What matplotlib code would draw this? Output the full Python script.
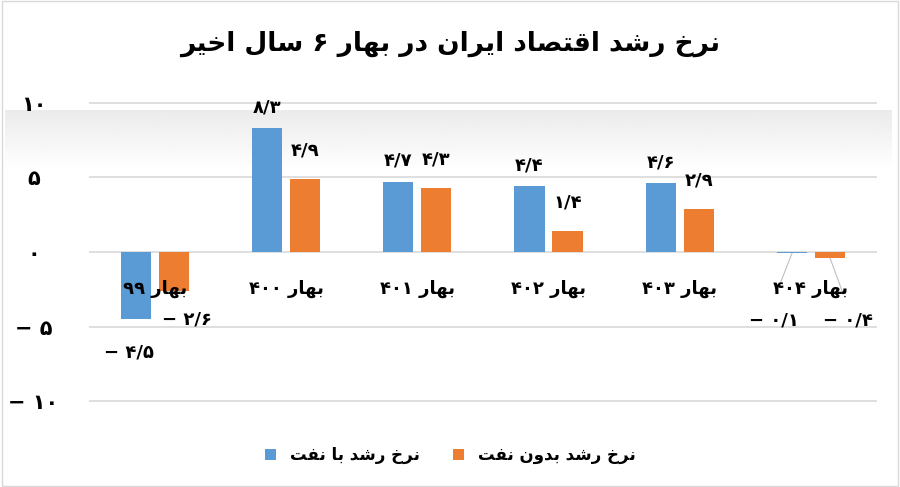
import matplotlib.pyplot as plt
import numpy as np

# داده‌ها
categories = ["بهار ۹۹", "بهار ۴۰۰", "بهار ۴۰۱", "بهار ۴۰۲", "بهار ۴۰۳", "بهار ۴۰۴"]
with_oil = [-4.5, 8.3, 4.7, 4.4, 4.6, -0.1]
without_oil = [-2.6, 4.9, 4.3, 1.4, 2.9, -0.4]
y_ticks = [-10, -5, 0, 5, 10]
title = "نرخ رشد اقتصاد ایران در بهار ۶ سال اخیر"
series_names = ["نرخ رشد با نفت", "نرخ رشد بدون نفت"]

BLUE = "#5B9BD5"
ORANGE = "#ED7D31"
FONT = "DejaVu Sans"

# minimal arabic shaping: (isolated, final, initial, medial)
_FORMS = {
    "ا": (0xFE8D, 0xFE8E, None, None),
    "ب": (0xFE8F, 0xFE90, 0xFE91, 0xFE92),
    "ت": (0xFE95, 0xFE96, 0xFE97, 0xFE98),
    "خ": (0xFEA5, 0xFEA6, 0xFEA7, 0xFEA8),
    "د": (0xFEA9, 0xFEAA, None, None),
    "ر": (0xFEAD, 0xFEAE, None, None),
    "س": (0xFEB1, 0xFEB2, 0xFEB3, 0xFEB4),
    "ش": (0xFEB5, 0xFEB6, 0xFEB7, 0xFEB8),
    "ص": (0xFEB9, 0xFEBA, 0xFEBB, 0xFEBC),
    "ف": (0xFED1, 0xFED2, 0xFED3, 0xFED4),
    "ق": (0xFED5, 0xFED6, 0xFED7, 0xFED8),
    "ل": (0xFEDD, 0xFEDE, 0xFEDF, 0xFEE0),
    "ن": (0xFEE5, 0xFEE6, 0xFEE7, 0xFEE8),
    "ه": (0xFEE9, 0xFEEA, 0xFEEB, 0xFEEC),
    "و": (0xFEED, 0xFEEE, None, None),
    "ی": (0xFBFC, 0xFBFD, 0xFEF3, 0xFEF4),
}


def _joins_forward(ch):
    return ch in _FORMS and _FORMS[ch][2] is not None


def _is_ltr(ch):
    return ch.isdigit() or ch in "/−-."


def fa(text):
    out = []
    for i, ch in enumerate(text):
        if ch not in _FORMS:
            out.append(ch)
            continue
        prev = text[i - 1] if i > 0 else ""
        nxt = text[i + 1] if i + 1 < len(text) else ""
        p = _joins_forward(prev)
        n = _joins_forward(ch) and nxt in _FORMS
        idx = 3 if (p and n) else 1 if p else 2 if n else 0
        out.append(chr(_FORMS[ch][idx]))
    out = out[::-1]
    # digit runs back to left-to-right
    res, run = [], []
    for ch in out:
        if _is_ltr(ch):
            run.append(ch)
        else:
            res.extend(run[::-1])
            run = []
            res.append(ch)
    res.extend(run[::-1])
    return "".join(res)


def fa_num(v):
    s = f"{abs(v):.1f}".replace(".", "/")
    s = s.translate(str.maketrans("0123456789", "۰۱۲۳۴۵۶۷۸۹"))
    if s.endswith("/۰"):
        s = s[:-2]
    return ("− " + s) if v < 0 else s


fig = plt.figure(figsize=(9, 4.87), dpi=100)

# grey band at the top of the plot area
grad = fig.add_axes([0.005, 0.65, 0.985, 0.125], zorder=0)
grad.imshow(np.linspace(0.92, 1.0, 100).reshape(-1, 1), cmap="gray",
            vmin=0, vmax=1, aspect="auto", extent=(0, 1, 0, 1))
grad.axis("off")

ax = fig.add_axes([0.099, 0.13, 0.875, 0.69], zorder=1)
ax.set_facecolor("none")
x = np.arange(len(categories))
w = 0.23
off = 0.145
ax.bar(x - off, with_oil, w, color=BLUE, label=fa(series_names[0]), zorder=3)
ax.bar(x + off, without_oil, w, color=ORANGE, label=fa(series_names[1]), zorder=3)

ax.set_xlim(-0.5, len(categories) - 0.5)
ax.set_ylim(-11.5, 11)
ax.set_yticks(y_ticks)
ax.set_yticklabels([fa_num(t) for t in y_ticks], fontsize=15,
                   fontweight="bold", fontfamily=FONT, ha="center")
ax.tick_params(axis="y", length=0, pad=40)
ax.set_xticks([])
ax.grid(axis="y", color="#d9d9d9", linewidth=1.2, zorder=0)
for s in ax.spines.values():
    s.set_visible(False)

LBL = dict(fontsize=13, fontweight="bold", fontfamily=FONT)

for i, c in enumerate(categories):
    ax.text(i, -2.5, fa(c), ha="center", va="center", zorder=5, **LBL)

for i, (a, b) in enumerate(zip(with_oil, without_oil)):
    if a >= 0:
        ax.text(i - off, a + 0.8, fa_num(a), ha="center", va="bottom", **LBL)
    if b >= 0:
        ax.text(i + off, b + 1.3, fa_num(b), ha="center", va="bottom", **LBL)

# negative labels
ax.text(-off - 0.05, -6.7, fa_num(with_oil[0]), ha="center", va="center", **LBL)
ax.text(off + 0.1, -4.5, fa_num(without_oil[0]), ha="center", va="center", **LBL)
ax.plot([5 - off, 5 - off - 0.12], [-0.1, -2.8], color="#bfbfbf", lw=0.8)
ax.plot([5 + off, 5 + off + 0.1], [-0.4, -2.8], color="#bfbfbf", lw=0.8)
ax.text(5 - off - 0.14, -4.6, fa_num(with_oil[5]), ha="center", va="center", **LBL)
ax.text(5 + off + 0.14, -4.6, fa_num(without_oil[5]), ha="center", va="center", **LBL)

fig.text(0.5, 0.91, fa(title), ha="center", va="center", fontsize=19,
         fontweight="bold", fontfamily=FONT)
fig.legend(loc="center", bbox_to_anchor=(0.5, 0.065), ncol=2, frameon=False,
           prop={"family": FONT, "size": 12, "weight": "bold"},
           handlelength=0.7, handleheight=0.7, columnspacing=2)

fig.patches.append(plt.Rectangle((0.002, 0.002), 0.996, 0.996,
                                 transform=fig.transFigure, fill=False,
                                 edgecolor="#d9d9d9", lw=1))
fig.savefig("out.png", dpi=100)
